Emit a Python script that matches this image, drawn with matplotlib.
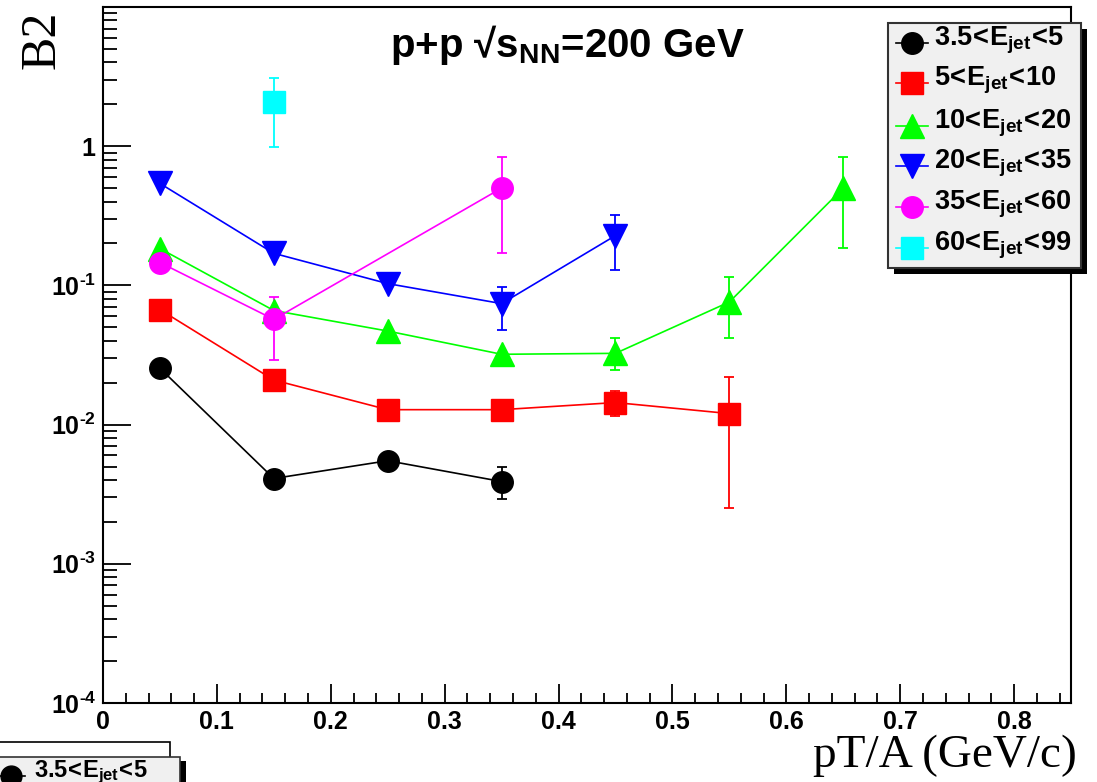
import matplotlib
matplotlib.use("Agg")
import matplotlib.pyplot as plt
from matplotlib.patches import Rectangle
from matplotlib.lines import Line2D
from matplotlib.ticker import FixedLocator, NullFormatter, MultipleLocator
import numpy as np

plt.rcParams['font.family'] = ['Liberation Sans', 'DejaVu Sans']
plt.rcParams['mathtext.fontset'] = 'custom'
plt.rcParams['mathtext.rm'] = 'Liberation Sans:bold'
plt.rcParams['mathtext.it'] = 'Liberation Sans:bold'
plt.rcParams['mathtext.bf'] = 'Liberation Sans:bold'
plt.rcParams['mathtext.default'] = 'rm'

# ---- data ----
labels = [r'$3.5\!<\!E_{jet}\!<\!5$', r'$5\!<\!E_{jet}\!<\!10$', r'$10\!<\!E_{jet}\!<\!20$',
          r'$20\!<\!E_{jet}\!<\!35$', r'$35\!<\!E_{jet}\!<\!60$', r'$60\!<\!E_{jet}\!<\!99$']
colors = ['#000000', '#ff0000', '#00ff00', '#0000ff', '#ff00ff', '#00ffff']
markers = ['o', 's', '^', 'v', 'o', 's']

x_e1 = [0.05, 0.15, 0.25, 0.35]
y_e1 = [0.0254, 0.0041, 0.0055, 0.0039]
lo_e1 = [0.0254, 0.0041, 0.0055, 0.0029]
hi_e1 = [0.0254, 0.0041, 0.0055, 0.0050]

x_e2 = [0.05, 0.15, 0.25, 0.35, 0.45, 0.55]
y_e2 = [0.067, 0.0209, 0.0128, 0.0128, 0.0144, 0.0120]
lo_e2 = [0.067, 0.0209, 0.0128, 0.0128, 0.0115, 0.0025]
hi_e2 = [0.067, 0.0209, 0.0128, 0.0128, 0.0175, 0.0218]

x_e3 = [0.05, 0.15, 0.25, 0.35, 0.45, 0.55, 0.65]
y_e3 = [0.184, 0.066, 0.047, 0.032, 0.0325, 0.076, 0.50]
lo_e3 = [0.184, 0.066, 0.047, 0.032, 0.0246, 0.042, 0.187]
hi_e3 = [0.184, 0.066, 0.047, 0.032, 0.042, 0.114, 0.83]

x_e4 = [0.05, 0.15, 0.25, 0.35, 0.45]
y_e4 = [0.54, 0.17, 0.103, 0.074, 0.228]
lo_e4 = [0.54, 0.17, 0.103, 0.048, 0.128]
hi_e4 = [0.54, 0.17, 0.103, 0.097, 0.32]

x_e5 = [0.05, 0.15, 0.35]
y_e5 = [0.146, 0.057, 0.50]
lo_e5 = [0.146, 0.029, 0.17]
hi_e5 = [0.146, 0.082, 0.84]

x_e6 = [0.15]
y_e6 = [2.07]
lo_e6 = [0.99]
hi_e6 = [3.1]

series = [(x_e1, y_e1, lo_e1, hi_e1), (x_e2, y_e2, lo_e2, hi_e2), (x_e3, y_e3, lo_e3, hi_e3),
          (x_e4, y_e4, lo_e4, hi_e4), (x_e5, y_e5, lo_e5, hi_e5), (x_e6, y_e6, lo_e6, hi_e6)]

xticks = [0, 0.1, 0.2, 0.3, 0.4, 0.5, 0.6, 0.7, 0.8]
xticklabels = ['0', '0.1', '0.2', '0.3', '0.4', '0.5', '0.6', '0.7', '0.8']
yticks = [1e-4, 1e-3, 1e-2, 1e-1, 1]
yticklabels = [r'$10^{\text{-}4}$', r'$10^{\text{-}3}$', r'$10^{\text{-}2}$', r'$10^{\text{-}1}$', r'$1$']

W, H = 1097, 782
fig = plt.figure(figsize=(W / 100, H / 100), dpi=100)
fig.patch.set_facecolor('white')
ax = fig.add_axes([103 / W, 1 - 703 / H, (1071 - 103) / W, (703 - 7) / H])

for (xs, ys, lo, hi), c, m in zip(series, colors, markers):
    xs = np.array(xs); ys = np.array(ys)
    yerr = [ys - np.array(lo), np.array(hi) - ys]
    ms = 17 if m in ('^', 'v') else 15.5
    ax.errorbar(xs, ys, yerr=yerr, color=c, marker=m, markersize=ms, lw=1.2,
                elinewidth=1.3, capsize=3.5, capthick=1.3, mec=c, mfc=c, zorder=3)

ax.set_yscale('log')
ax.set_xlim(0, 0.85)
ax.set_ylim(1e-4, 10)
ax.xaxis.set_major_locator(FixedLocator(xticks))
ax.set_xticklabels(xticklabels)
ax.xaxis.set_minor_locator(MultipleLocator(0.02))
ax.yaxis.set_major_locator(FixedLocator(yticks))
ax.set_yticklabels(yticklabels)
minors = [k * 10.0 ** e for e in range(-4, 1) for k in range(2, 10)]
ax.yaxis.set_minor_locator(FixedLocator(minors))
ax.yaxis.set_minor_formatter(NullFormatter())
ax.tick_params(axis='both', which='both', direction='in', width=1.3, labelsize=18,
               top=False, right=False)
ax.tick_params(axis='y', which='major', length=20, pad=5)
ax.tick_params(axis='y', which='minor', length=10)
ax.tick_params(axis='x', which='major', length=14, pad=5)
ax.tick_params(axis='x', which='minor', length=7)
for lab in ax.get_xticklabels() + ax.get_yticklabels():
    lab.set_fontweight('bold')
for s in ax.spines.values():
    s.set_linewidth(1.5)

# overlay in pixel coords for text/legend
ov = fig.add_axes([0, 0, 1, 1], facecolor='none')
ov.set_xlim(0, W); ov.set_ylim(H, 0); ov.axis('off')

ov.text(567, 45, r'p+p √$s_{NN}$=200 GeV', ha='center', va='center', fontsize=29,
        fontweight='bold')
ov.text(42, 40, 'B2', rotation=90, ha='center', va='center', fontsize=36,
        family='Liberation Serif')
ov.text(1077, 756, 'pT/A (GeV/c)', ha='right', va='center', fontsize=34,
        family='Liberation Serif')

# legend box
lx0, ly0, lx1, ly1 = 888, 23, 1081, 268
ov.add_patch(Rectangle((lx0 + 6, ly0 + 6), lx1 - lx0, ly1 - ly0, fc='black', ec='none', zorder=5))
ov.add_patch(Rectangle((lx0, ly0), lx1 - lx0, ly1 - ly0, fc='#f0f0f0', ec='#333333', lw=1.5, zorder=6))
rows = [43, 83, 126, 166, 207, 248]
for r, lab, c, m in zip(rows, labels, colors, markers):
    ms = 17 if m in ('^', 'v') else 15.5
    ov.add_line(Line2D([896, 928], [r, r], color=c, lw=1.2, zorder=7))
    ov.add_line(Line2D([912], [r], color=c, marker=m, markersize=ms, mec=c, mfc=c, zorder=8))
    ov.text(934, r - 3, lab, ha='left', va='center', fontsize=19.5, zorder=8)

# remnants of a second legend at bottom-left
ov.add_patch(Rectangle((-5, 742), 175, 30, fc='white', ec='black', lw=1.2, zorder=5))
ov.add_patch(Rectangle((-5, 761), 191, 30, fc='black', ec='none', zorder=6))
ov.add_patch(Rectangle((-5, 757), 185, 30, fc='#f0f0f0', ec='#333333', lw=1.2, zorder=7))
ov.add_line(Line2D([0, 25], [776, 776], color='black', lw=1.2, zorder=8))
ov.add_line(Line2D([11], [776], color='black', marker='o', markersize=15, zorder=8))
ov.text(34, 772, r'$3.5\!<\!E_{jet}\!<\!5$', ha='left', va='center', fontsize=17, zorder=8)

fig.savefig('out.png', dpi=100)
